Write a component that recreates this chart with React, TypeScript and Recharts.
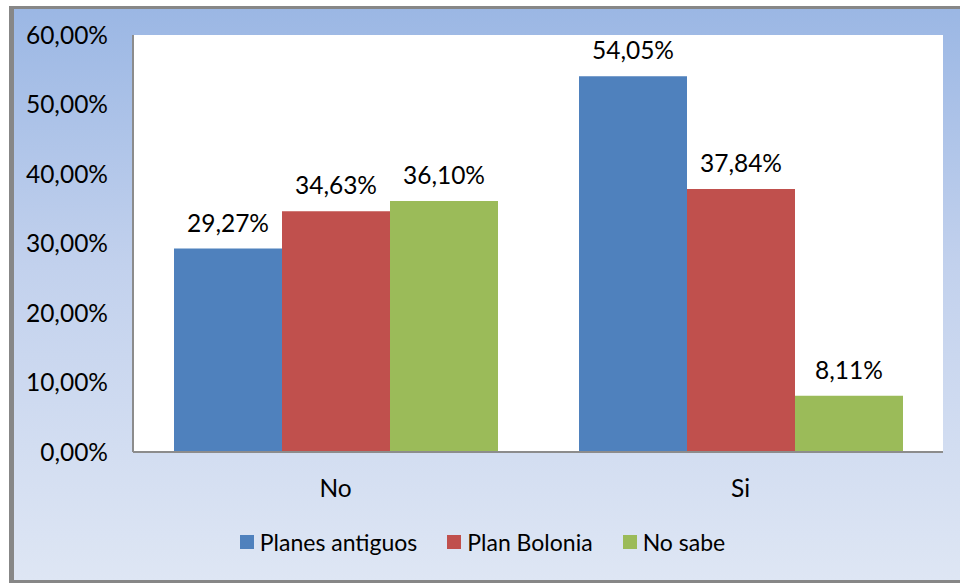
import { BarChart, Bar, XAxis, YAxis, Legend, LabelList } from 'recharts';

const categories = ['No', 'Si'];
const planesAntiguos = [29.27, 54.05];
const planBolonia = [34.63, 37.84];
const noSabe = [36.1, 8.11];
const yTicks = [0, 10, 20, 30, 40, 50, 60];

const seriesNames = ['Planes antiguos', 'Plan Bolonia', 'No sabe'];
const seriesColors = ['#4f81bd', '#c0504d', '#9bbb59'];

const chartData = categories.map((name, i) => ({
    name,
    antiguos: planesAntiguos[i],
    bolonia: planBolonia[i],
    nosabe: noSabe[i],
}));

const FONT = 'Lato, "Open Sans", sans-serif';
const FS = 24.5;

const pct = (v: any) => `${Number(v).toFixed(2).replace('.', ',')}%`;

// legend drawn in the source order, with wide gaps like the original
const renderLegend = () => (
    <div style={{ display: 'flex', justifyContent: 'center', alignItems: 'center', gap: 30, paddingLeft: 8, marginTop: -4 }}>
        {seriesNames.map((n, i) => (
            <div key={n} style={{ display: 'flex', alignItems: 'center' }}>
                <span style={{ width: 14, height: 14, background: seriesColors[i], marginRight: 6, display: 'inline-block' }} />
                <span style={{ fontSize: 23, fontFamily: FONT, color: '#000', lineHeight: '28px' }}>{n}</span>
            </div>
        ))}
    </div>
);

export default function App() {
    return (
        <div
            style={{
                position: 'fixed',
                left: 9,
                top: 6,
                width: 951,
                height: 577,
                boxSizing: 'border-box',
                borderLeft: '5px solid #878787',
                borderTop: '3px solid #878787',
                borderBottom: '3px solid #878787',
                background: 'linear-gradient(to bottom, #9bb7e4 0%, #c2d1ed 45%, #dee6f4 100%)',
                fontFamily: FONT,
            }}
        >
            <BarChart
                width={946}
                height={571}
                data={chartData}
                margin={{ top: 26, right: 17, left: 0, bottom: 0 }}
                barCategoryGap={41}
                barGap={0}
            >
                <rect x={119} y={26} width={810} height={417} fill="#ffffff" />
                <XAxis
                    dataKey="name"
                    axisLine={{ stroke: '#8c8c8c', strokeWidth: 2 }}
                    tickLine={false}
                    height={80}
                    tick={{ fill: '#000', fontSize: FS, fontFamily: FONT }}
                    tickMargin={22}
                />
                <YAxis
                    domain={[0, 60]}
                    ticks={yTicks}
                    tickFormatter={pct}
                    width={119}
                    axisLine={{ stroke: '#8c8c8c', strokeWidth: 2 }}
                    tickLine={false}
                    tick={{ fill: '#000', fontSize: FS, fontFamily: FONT }}
                    tickMargin={19}
                />
                <Legend verticalAlign="bottom" height={48} content={renderLegend} />
                <Bar dataKey="antiguos" name={seriesNames[0]} fill={seriesColors[0]} isAnimationActive={false}>
                    <LabelList dataKey="antiguos" position="top" offset={17} formatter={pct} style={{ fill: '#000', fontSize: FS, fontFamily: FONT }} />
                </Bar>
                <Bar dataKey="bolonia" name={seriesNames[1]} fill={seriesColors[1]} isAnimationActive={false}>
                    <LabelList dataKey="bolonia" position="top" offset={17} formatter={pct} style={{ fill: '#000', fontSize: FS, fontFamily: FONT }} />
                </Bar>
                <Bar dataKey="nosabe" name={seriesNames[2]} fill={seriesColors[2]} isAnimationActive={false}>
                    <LabelList dataKey="nosabe" position="top" offset={17} formatter={pct} style={{ fill: '#000', fontSize: FS, fontFamily: FONT }} />
                </Bar>
            </BarChart>
        </div>
    );
}
